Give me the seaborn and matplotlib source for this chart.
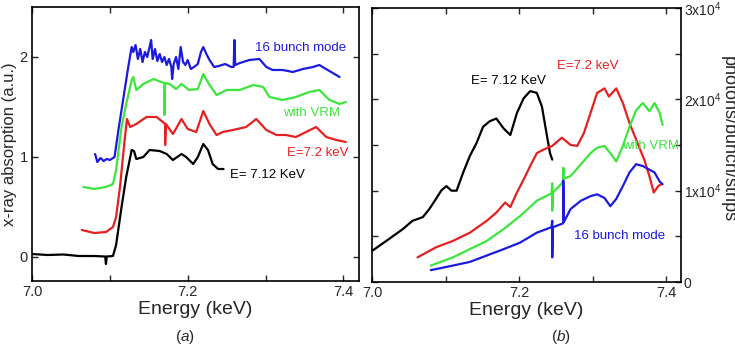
import numpy as np
import pandas as pd
import matplotlib
matplotlib.use('Agg')
import matplotlib.pyplot as plt
import seaborn as sns

BLUE_COLOR = '#1a1ae0'
GREEN_COLOR = '#3ce63c'
RED_COLOR = '#e62020'
BLACK_COLOR = '#000000'

# ---- panel (a): x-ray absorption, offset spectra ----
a_black_e = [7.000, 7.02, 7.04, 7.06, 7.08, 7.094, 7.095, 7.096, 7.104, 7.108, 7.115, 7.121, 7.128,
             7.131, 7.134, 7.143, 7.151, 7.164, 7.173, 7.181, 7.192, 7.198, 7.207, 7.213, 7.220,
             7.226, 7.232, 7.239, 7.246]
a_black_mu = [0.03, 0.02, 0.025, 0.01, 0.01, 0.005, -0.07, 0.005, 0.01, 0.12, 0.5, 0.8, 1.07,
              1.06, 0.98, 1.0, 1.07, 1.06, 1.03, 0.97, 1.03, 1.0, 0.93, 1.0, 1.13,
              1.07, 0.93, 0.88, 0.88]

a_red_e = [7.064, 7.08, 7.095, 7.104, 7.108, 7.113, 7.119, 7.122, 7.126, 7.134, 7.147, 7.16, 7.168,
           7.171, 7.171, 7.172, 7.181, 7.192, 7.2, 7.211, 7.22, 7.228, 7.237, 7.245, 7.258, 7.275,
           7.288, 7.301, 7.314, 7.326, 7.339, 7.352, 7.365, 7.378, 7.391, 7.403]
a_red_mu = [0.27, 0.24, 0.25, 0.3, 0.4, 0.7, 1.17, 1.38, 1.3, 1.33, 1.4, 1.4, 1.35,
            1.33, 1.12, 1.33, 1.23, 1.38, 1.28, 1.25, 1.46, 1.33, 1.22, 1.25, 1.27, 1.3,
            1.38, 1.27, 1.22, 1.22, 1.2, 1.25, 1.3, 1.2, 1.17, 1.15]

a_green_e = [7.066, 7.08, 7.095, 7.104, 7.108, 7.115, 7.121, 7.128, 7.130, 7.134, 7.143, 7.156,
             7.166, 7.170, 7.170, 7.171, 7.177, 7.185, 7.192, 7.202, 7.213, 7.220, 7.228, 7.237,
             7.25, 7.267, 7.284, 7.297, 7.305, 7.322, 7.339, 7.356, 7.369, 7.382, 7.395, 7.403]
a_green_mu = [0.7, 0.68, 0.7, 0.73, 0.87, 1.3, 1.53, 1.77, 1.8, 1.67, 1.73, 1.78,
              1.75, 1.74, 1.42, 1.74, 1.73, 1.68, 1.73, 1.67, 1.68, 1.83, 1.72, 1.62,
              1.67, 1.67, 1.72, 1.7, 1.6, 1.57, 1.6, 1.65, 1.67, 1.57, 1.53, 1.55]

a_blue_e = [7.081, 7.084, 7.088, 7.092, 7.096, 7.100, 7.106, 7.111, 7.117, 7.123, 7.128, 7.130,
            7.133, 7.136, 7.139, 7.142, 7.145, 7.148, 7.151, 7.153, 7.155, 7.158, 7.161, 7.164,
            7.167, 7.170, 7.173, 7.176, 7.179, 7.180, 7.182, 7.185, 7.188, 7.191, 7.194, 7.197,
            7.200, 7.204, 7.208, 7.213, 7.217, 7.220, 7.224, 7.228, 7.234, 7.240, 7.248, 7.256,
            7.259, 7.260, 7.261, 7.267, 7.279, 7.292, 7.301, 7.309, 7.322, 7.335, 7.348, 7.361,
            7.369, 7.382, 7.395]
a_blue_mu = [1.03, 0.95, 0.99, 0.96, 0.98, 0.97, 1.0, 1.27, 1.57, 1.87, 2.1, 2.05,
             2.12, 1.98, 2.08, 1.95, 2.05, 2.0, 2.1, 2.17, 1.98, 2.08, 1.96, 2.03,
             1.95, 2.0, 1.92, 1.98, 1.9, 1.78, 1.93, 2.0, 1.88, 2.1, 1.95, 1.92,
             1.97, 1.88, 1.9, 1.93, 2.05, 2.1, 2.03, 1.97, 1.9, 1.91, 1.93, 1.9,
             1.9, 2.17, 1.92, 1.94, 1.97, 1.98, 1.9, 1.87, 1.87, 1.85, 1.88, 1.9,
             1.92, 1.86, 1.8]

# ---- panel (b): photons/bunch/strips (units of 1e4) ----
b_black_e = [7.0, 7.023, 7.042, 7.055, 7.069, 7.078, 7.087, 7.094, 7.101, 7.108, 7.115, 7.124,
             7.133, 7.142, 7.151, 7.160, 7.169, 7.179, 7.188, 7.197, 7.206, 7.215, 7.224, 7.231,
             7.238, 7.242, 7.245]
b_black_n = [0.34, 0.47, 0.58, 0.67, 0.71, 0.80, 0.91, 1.0, 1.05, 1.0, 1.0, 1.2,
             1.38, 1.52, 1.7, 1.76, 1.79, 1.68, 1.61, 1.85, 2.01, 2.09, 2.07, 1.92,
             1.59, 1.41, 1.34]

b_red_e = [7.062, 7.087, 7.11, 7.133, 7.156, 7.169, 7.181, 7.188, 7.197, 7.206, 7.215, 7.224,
           7.233, 7.245, 7.258, 7.27, 7.279, 7.288, 7.297, 7.306, 7.316, 7.322, 7.332, 7.341,
           7.35, 7.361, 7.37, 7.377, 7.383, 7.389, 7.393]
b_red_n = [0.27, 0.38, 0.45, 0.54, 0.67, 0.76, 0.87, 0.82, 0.98, 1.12, 1.27, 1.41,
           1.45, 1.49, 1.58, 1.5, 1.49, 1.63, 1.85, 2.07, 2.12, 2.03, 2.12, 1.96,
           1.74, 1.52, 1.34, 1.16, 0.98, 1.05, 1.07]

b_green_e = [7.08, 7.11, 7.133, 7.156, 7.179, 7.201, 7.224, 7.244, 7.245, 7.245, 7.246, 7.258,
             7.26, 7.26, 7.261, 7.27, 7.284, 7.297, 7.306, 7.316, 7.324, 7.332, 7.341, 7.35,
             7.359, 7.368, 7.377, 7.384, 7.391, 7.395]
b_green_n = [0.18, 0.27, 0.36, 0.45, 0.58, 0.72, 0.89, 0.97, 1.08, 0.78, 0.98, 1.08,
             1.12, 1.25, 1.13, 1.16, 1.29, 1.41, 1.47, 1.49, 1.41, 1.32, 1.49, 1.70,
             1.88, 1.96, 1.87, 1.96, 1.85, 1.72]

b_blue_e = [7.08, 7.11, 7.133, 7.156, 7.179, 7.201, 7.224, 7.244, 7.245, 7.245, 7.246, 7.259,
            7.26, 7.26, 7.261, 7.27, 7.284, 7.297, 7.306, 7.316, 7.324, 7.332, 7.341, 7.35,
            7.359, 7.368, 7.377, 7.384, 7.391, 7.395]
b_blue_n = [0.13, 0.18, 0.22, 0.29, 0.36, 0.43, 0.54, 0.6, 0.67, 0.27, 0.6, 0.64,
            0.65, 1.11, 0.66, 0.8, 0.89, 0.94, 0.96, 0.92, 0.83, 0.91, 1.05, 1.2,
            1.29, 1.27, 1.23, 1.2, 1.1, 1.07]

x_ticks = [7.0, 7.1, 7.2, 7.3, 7.4]
x_ticklabels = ['7.0', '', '7.2', '', '7.4']
a_yticks = [0, 1, 2]
b_yticks = [0, 5000, 10000, 15000, 20000, 25000, 30000]
b_yticklabels = ['0', '', r'1x10$^4$', '', r'2x10$^4$', '', r'3x10$^4$']


def draw_curve(ax, e, v, color, scale=1.0):
    df = pd.DataFrame({'Energy': e, 'Value': np.array(v) * scale})
    sns.lineplot(data=df, x='Energy', y='Value', ax=ax, color=color, lw=1.6,
                 sort=False, estimator=None)


sns.set_style('ticks')
plt.rcParams['font.family'] = ['Liberation Sans', 'DejaVu Sans']
plt.rcParams['mathtext.fontset'] = 'custom'
plt.rcParams['mathtext.rm'] = 'Liberation Sans'
plt.rcParams['mathtext.it'] = 'Liberation Sans:italic'

fig = plt.figure(figsize=(7.35, 3.47), dpi=100)
ax_a = fig.add_axes([32 / 735, 1 - 281 / 347, 327 / 735, 274 / 347])
ax_b = fig.add_axes([372 / 735, 1 - 282 / 347, 309 / 735, 274 / 347])

# panel (a)
draw_curve(ax_a, a_black_e, a_black_mu, BLACK_COLOR)
draw_curve(ax_a, a_red_e, a_red_mu, RED_COLOR)
draw_curve(ax_a, a_green_e, a_green_mu, GREEN_COLOR)
draw_curve(ax_a, a_blue_e, a_blue_mu, BLUE_COLOR)
ax_a.set_xlim(7.0, 7.42)
ax_a.set_ylim(-0.24, 2.5)
ax_a.set_yticks(a_yticks)
ax_a.set_ylabel('x-ray absorption (a.u.)', fontsize=12, labelpad=2)

ax_a.text(7.287, 2.09, '16 bunch mode', color=BLUE_COLOR, fontsize=9.5, va='center')
ax_a.text(7.323, 1.44, 'with VRM', color=GREEN_COLOR, fontsize=9.5, va='center')
ax_a.text(7.327, 1.04, 'E=7.2 keV', color=RED_COLOR, fontsize=9.5, va='center')
ax_a.text(7.254, 0.82, 'E= 7.12 KeV', color=BLACK_COLOR, fontsize=9.5, va='center')

# panel (b)
draw_curve(ax_b, b_black_e, b_black_n, BLACK_COLOR, 1e4)
draw_curve(ax_b, b_red_e, b_red_n, RED_COLOR, 1e4)
draw_curve(ax_b, b_green_e, b_green_n, GREEN_COLOR, 1e4)
draw_curve(ax_b, b_blue_e, b_blue_n, BLUE_COLOR, 1e4)
ax_b.set_xlim(7.0, 7.42)
ax_b.set_ylim(0, 30000)
ax_b.set_yticks(b_yticks)
ax_b.set_yticklabels(b_yticklabels)
ax_b.yaxis.set_label_position('right')
ax_b.set_ylabel('photons/bunch/strips', fontsize=13, rotation=270, va='center')
ax_b.yaxis.set_label_coords(1.152, 0.52)

ax_b.text(7.134, 2.196e4, 'E= 7.12 KeV', color=BLACK_COLOR, fontsize=9.5, va='center')
ax_b.text(7.251, 2.36e4, 'E=7.2 keV', color=RED_COLOR, fontsize=9.5, va='center')
ax_b.text(7.340, 1.49e4, 'with VRM', color=GREEN_COLOR, fontsize=9.5, va='center')
ax_b.text(7.274, 0.50e4, '16 bunch mode', color=BLUE_COLOR, fontsize=9.5, va='center')

for ax in (ax_a, ax_b):
    ax.set_xticks(x_ticks)
    ax.set_xticklabels(x_ticklabels)
    ax.set_xlabel('Energy (keV)', fontsize=14, labelpad=1)
    ax.tick_params(direction='in', top=True, right=True, length=4, width=1,
                   labelsize=10.5, pad=3)
    for sp in ax.spines.values():
        sp.set_visible(True)
        sp.set_linewidth(1.2)
        sp.set_color('black')

ax_b.tick_params(axis='y', labelleft=False, labelright=True, labelsize=10, pad=2)

fig.text(185 / 735, 1 - 337 / 347, r'($\mathit{a}$)', fontsize=11, ha='center', va='center')
fig.text(561 / 735, 1 - 337 / 347, r'($\mathit{b}$)', fontsize=11, ha='center', va='center')

fig.savefig('out.png', dpi=100)
